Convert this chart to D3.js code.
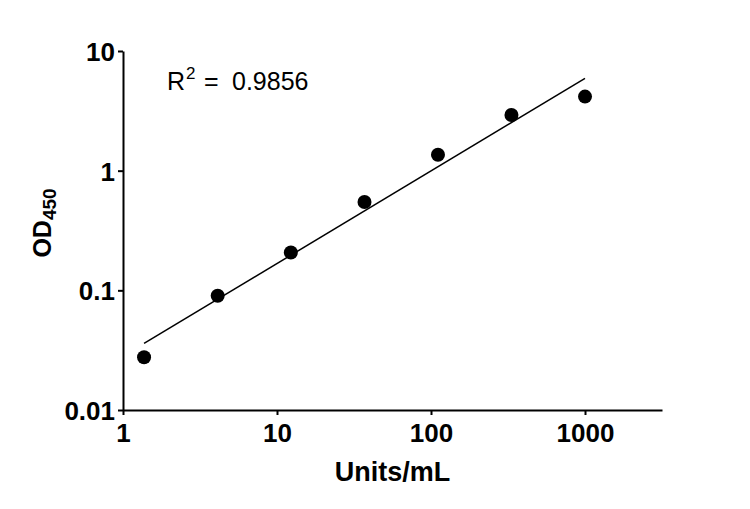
<!DOCTYPE html>
<html>
<head>
<meta charset="utf-8">
<script src="https://cdn.jsdelivr.net/npm/d3@7"></script>
<style>
  html, body { margin: 0; padding: 0; background: #fff; }
  svg { display: block; }
  text { font-family: "Liberation Sans", Arial, sans-serif; fill: #000; }
</style>
</head>
<body>
<svg id="chart" width="750" height="509"></svg>
<script>
// ---- data ----
const concentrations = [1.37, 4.12, 12.3, 37, 111, 333, 1000];   // Units/mL
const odValues       = [0.0276, 0.090, 0.207, 0.547, 1.36, 2.92, 4.16];
const fitX = [1.37, 1000];
const fitY = [0.036, 5.9];
const xTickValues = [1, 10, 100, 1000];
const xTickLabels = ["1", "10", "100", "1000"];
const yTickValues = [0.01, 0.1, 1, 10];
const yTickLabels = ["0.01", "0.1", "1", "10"];
const r2Label = "0.9856";

// ---- layout ----
const svg = d3.select("#chart");
const mLeft = 123, mRight = 662, mTop = 51, mBottom = 410;

const x = d3.scaleLog().domain([1, 3162]).range([mLeft, mRight]);
const y = d3.scaleLog().domain([0.01, 10]).range([mBottom, mTop]);

// x axis
const xAxis = d3.axisBottom(x)
  .tickValues(xTickValues)
  .tickFormat((d, i) => xTickLabels[i])
  .tickSizeInner(5).tickSizeOuter(0).tickPadding(9);
const gx = svg.append("g").attr("transform", `translate(0,${mBottom})`).call(xAxis);

// y axis
const yAxis = d3.axisLeft(y)
  .tickValues(yTickValues)
  .tickFormat((d, i) => yTickLabels[i])
  .tickSizeInner(5).tickSizeOuter(0).tickPadding(3);
const gy = svg.append("g").attr("transform", `translate(${mLeft},0)`).call(yAxis);

[gx, gy].forEach(g => {
  g.select(".domain").attr("stroke", "#000").attr("stroke-width", 2);
  g.selectAll(".tick line").attr("stroke", "#000").attr("stroke-width", 2);
  g.selectAll(".tick text")
    .attr("font-family", "'Liberation Sans', Arial, sans-serif")
    .attr("font-size", 26).attr("font-weight", "bold").attr("fill", "#000");
});
gy.selectAll(".tick text").attr("dy", "0.36em");

// fit line
const line = d3.line().x(d => x(d[0])).y(d => y(d[1]));
svg.append("path")
  .datum(fitX.map((v, i) => [v, fitY[i]]))
  .attr("d", line)
  .attr("fill", "none").attr("stroke", "#000").attr("stroke-width", 1.5);

// points
svg.selectAll("circle.pt")
  .data(concentrations.map((c, i) => [c, odValues[i]]))
  .join("circle")
  .attr("class", "pt")
  .attr("cx", d => x(d[0])).attr("cy", d => y(d[1]))
  .attr("r", 7).attr("fill", "#000");

// R² annotation
const r2 = svg.append("text").attr("font-size", 25);
r2.append("tspan").attr("x", 167).attr("y", 89.5).text("R");
r2.append("tspan").attr("x", 186).attr("y", 79).attr("font-size", 17).text("2");
r2.append("tspan").attr("x", 204).attr("y", 89.5).text("=");
r2.append("tspan").attr("x", 232).attr("y", 89.5).text(r2Label);

// x title
svg.append("text")
  .attr("x", (mLeft + mRight) / 2).attr("y", 481)
  .attr("text-anchor", "middle")
  .attr("font-size", 27).attr("font-weight", "bold")
  .text("Units/mL");

// y title
const yt = svg.append("text")
  .attr("transform", `translate(51,223) rotate(-90)`)
  .attr("text-anchor", "middle")
  .attr("font-size", 25).attr("font-weight", "bold");
yt.append("tspan").text("OD");
yt.append("tspan").attr("font-size", 19).attr("dy", 5).text("450");
</script>
</body>
</html>
